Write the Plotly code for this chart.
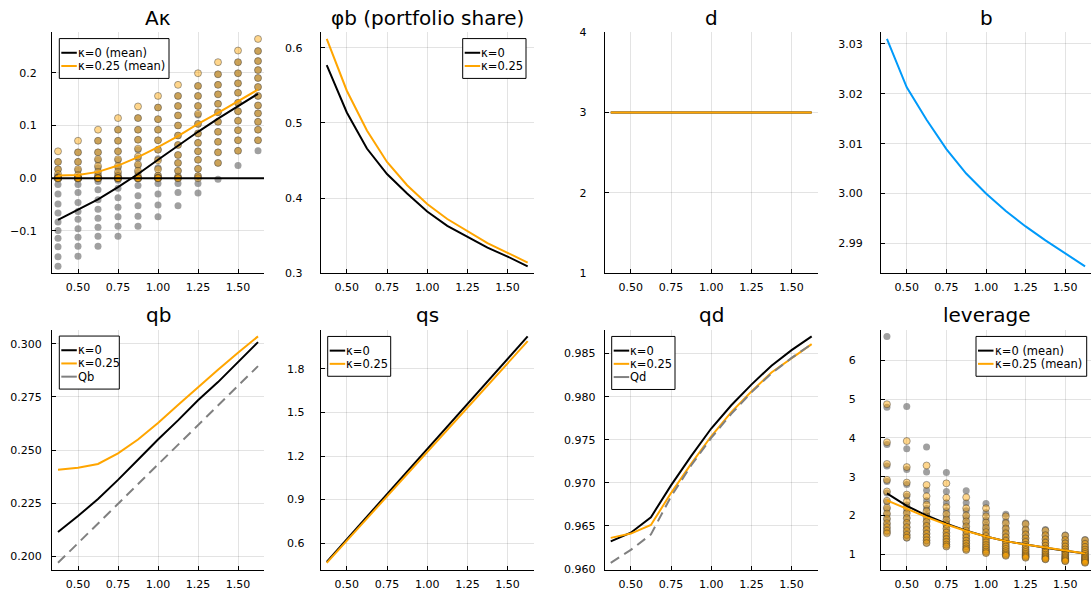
import plotly.graph_objects as go

W, H = 1091, 605

# ---------------- data ----------------
x_grid = [0.375, 0.5, 0.625, 0.75, 0.875, 1.0, 1.125, 1.25, 1.375, 1.5, 1.625]

# A kappa scatter, one list per x value
ak_k0_cols = [
    [0.031, 0.017, 0.004, -0.012, -0.030, -0.049, -0.066, -0.083, -0.099, -0.114, -0.130, -0.149, -0.167],
    [0.049, 0.031, 0.015, 0.000, -0.012, -0.027, -0.046, -0.063, -0.078, -0.096, -0.112, -0.129, -0.148],
    [0.071, 0.049, 0.034, 0.020, 0.007, -0.006, -0.022, -0.041, -0.059, -0.076, -0.093, -0.110, -0.129],
    [0.092, 0.071, 0.051, 0.034, 0.020, 0.008, -0.004, -0.019, -0.037, -0.055, -0.073, -0.091, -0.110],
    [0.114, 0.092, 0.073, 0.054, 0.038, 0.024, 0.011, -0.001, -0.014, -0.033, -0.052, -0.072, -0.091],
    [0.134, 0.112, 0.092, 0.072, 0.054, 0.037, 0.020, 0.005, -0.010, -0.030, -0.051, -0.073],
    [0.156, 0.137, 0.119, 0.100, 0.081, 0.063, 0.044, 0.029, 0.014, 0.002, -0.010, -0.027, -0.052],
    [0.175, 0.156, 0.137, 0.120, 0.103, 0.085, 0.067, 0.051, 0.035, 0.018, 0.004, -0.010, -0.028],
    [0.197, 0.177, 0.159, 0.141, 0.125, 0.107, 0.088, 0.069, 0.049, 0.029, -0.002],
    [0.220, 0.199, 0.180, 0.162, 0.143, 0.127, 0.109, 0.091, 0.072, 0.052, 0.024],
    [0.241, 0.222, 0.205, 0.190, 0.173, 0.156, 0.138, 0.123, 0.107, 0.092, 0.072, 0.052],
]
ak_k25_cols = [
    [0.051, 0.031, 0.017, 0.008, 0.002, 0.0, 0.0, 0.0, 0.0, 0.0, 0.0, 0.0, 0.0],
    [0.071, 0.049, 0.031, 0.017, 0.006, 0.0, 0.0, 0.0, 0.0, 0.0, 0.0, 0.0, 0.0],
    [0.092, 0.071, 0.049, 0.036, 0.023, 0.012, 0.004, 0.0, 0.0, 0.0, 0.0, 0.0, 0.0],
    [0.114, 0.092, 0.071, 0.051, 0.036, 0.023, 0.012, 0.004, 0.0, 0.0, 0.0, 0.0, 0.0],
    [0.136, 0.114, 0.092, 0.073, 0.056, 0.041, 0.026, 0.014, 0.004, 0.0, 0.0, 0.0, 0.0],
    [0.156, 0.134, 0.112, 0.092, 0.072, 0.054, 0.034, 0.017, 0.005, 0.001, 0.0, 0.0, 0.0],
    [0.177, 0.156, 0.137, 0.119, 0.100, 0.081, 0.063, 0.044, 0.029, 0.014, 0.003, 0.0, 0.0],
    [0.199, 0.175, 0.156, 0.137, 0.122, 0.103, 0.085, 0.067, 0.051, 0.035, 0.018, 0.004, 0.0],
    [0.220, 0.197, 0.177, 0.159, 0.141, 0.125, 0.107, 0.088, 0.069, 0.049, 0.029],
    [0.242, 0.220, 0.199, 0.180, 0.162, 0.143, 0.127, 0.109, 0.091, 0.072, 0.052],
    [0.264, 0.241, 0.222, 0.205, 0.190, 0.173, 0.156, 0.138, 0.123, 0.107, 0.092, 0.072],
]
ak_mean_k0 = [-0.079, -0.060, -0.040, -0.017, 0.008, 0.035, 0.062, 0.088, 0.113, 0.137, 0.160]
ak_mean_k25 = [0.005, 0.006, 0.012, 0.024, 0.040, 0.059, 0.080, 0.103, 0.124, 0.146, 0.168]

phib_k0 = [0.577, 0.514, 0.466, 0.432, 0.406, 0.382, 0.363, 0.348, 0.334, 0.322, 0.309]
phib_k25 = [0.612, 0.543, 0.490, 0.448, 0.417, 0.392, 0.372, 0.356, 0.340, 0.327, 0.314]

d_k0 = [3.0, 3.0, 3.0, 3.0, 3.0, 3.0, 3.0, 3.0, 3.0, 3.0, 3.0]
d_k25 = [3.0, 3.0, 3.0, 3.0, 3.0, 3.0, 3.0, 3.0, 3.0, 3.0, 3.0]

b_vals = [3.0310, 3.0213, 3.0148, 3.0089, 3.0040, 3.0000, 2.9965, 2.9934, 2.9906, 2.9880, 2.9854]

qb_k0 = [0.2115, 0.2190, 0.2270, 0.2360, 0.2455, 0.2550, 0.2640, 0.2735, 0.2820, 0.2912, 0.3008]
qb_k25 = [0.2408, 0.2417, 0.2435, 0.2485, 0.2550, 0.2628, 0.2712, 0.2797, 0.2878, 0.2958, 0.3035]
Qb = [0.1970, 0.2062, 0.2154, 0.2247, 0.2340, 0.2432, 0.2525, 0.2617, 0.2710, 0.2802, 0.2895]

qs_k0 = [0.472, 0.627, 0.782, 0.937, 1.092, 1.2475, 1.403, 1.558, 1.713, 1.868, 2.023]
qs_k25 = [0.465, 0.6175, 0.770, 0.9225, 1.075, 1.2275, 1.380, 1.5325, 1.685, 1.8375, 1.990]

qd_k0 = [0.9632, 0.9642, 0.9660, 0.9697, 0.9731, 0.9763, 0.9790, 0.9814, 0.9836, 0.9854, 0.9870]
qd_k25 = [0.9636, 0.9641, 0.9651, 0.9688, 0.9722, 0.9754, 0.9782, 0.9806, 0.9828, 0.9845, 0.9861]
Qd = [0.9607, 0.9622, 0.9640, 0.9684, 0.9720, 0.9752, 0.9780, 0.9805, 0.9827, 0.9845, 0.9861]

lev_k0_cols = [
    [6.62, 4.79, 3.83, 3.28, 2.88, 2.58, 2.35, 2.17, 2.02, 1.89, 1.77, 1.66, 1.56],
    [4.81, 3.72, 3.19, 2.80, 2.50, 2.27, 2.10, 1.95, 1.82, 1.70, 1.59, 1.50, 1.42],
    [3.77, 3.12, 2.65, 2.38, 2.18, 2.02, 1.88, 1.76, 1.65, 1.55, 1.46, 1.37, 1.29],
    [3.11, 2.62, 2.33, 2.12, 1.96, 1.83, 1.71, 1.61, 1.52, 1.44, 1.36, 1.28, 1.21],
    [2.64, 2.33, 2.12, 1.95, 1.81, 1.69, 1.58, 1.49, 1.41, 1.33, 1.26, 1.19, 1.12],
    [2.31, 2.07, 1.89, 1.75, 1.63, 1.52, 1.43, 1.35, 1.28, 1.21, 1.15, 1.09, 1.04],
    [2.03, 1.85, 1.70, 1.58, 1.47, 1.38, 1.30, 1.23, 1.16, 1.10, 1.05, 1.01, 0.97],
    [1.81, 1.66, 1.54, 1.44, 1.35, 1.27, 1.20, 1.13, 1.08, 1.03, 0.98, 0.95, 0.92],
    [1.64, 1.51, 1.41, 1.32, 1.24, 1.17, 1.11, 1.06, 1.01, 0.97, 0.93, 0.90, 0.875],
    [1.50, 1.39, 1.30, 1.22, 1.15, 1.09, 1.04, 0.99, 0.95, 0.91, 0.88, 0.85, 0.83],
    [1.38, 1.29, 1.21, 1.14, 1.08, 1.03, 0.98, 0.94, 0.90, 0.87, 0.84, 0.81, 0.79],
]
lev_k25_cols = [
    [4.87, 3.89, 3.33, 2.92, 2.62, 2.38, 2.20, 2.05, 1.92, 1.80, 1.70, 1.61, 1.54],
    [3.92, 3.25, 2.85, 2.54, 2.36, 2.20, 2.06, 1.93, 1.81, 1.70, 1.60, 1.50, 1.43],
    [3.29, 2.79, 2.50, 2.28, 2.11, 1.97, 1.84, 1.73, 1.63, 1.53, 1.44, 1.36, 1.29],
    [2.83, 2.46, 2.22, 2.04, 1.89, 1.77, 1.66, 1.56, 1.47, 1.39, 1.32, 1.25, 1.20],
    [2.47, 2.19, 2.00, 1.85, 1.72, 1.61, 1.51, 1.43, 1.35, 1.28, 1.21, 1.15, 1.11],
    [2.19, 1.98, 1.82, 1.68, 1.57, 1.47, 1.39, 1.31, 1.24, 1.18, 1.12, 1.07, 1.03],
    [1.98, 1.80, 1.66, 1.54, 1.44, 1.35, 1.27, 1.20, 1.14, 1.08, 1.03, 0.99, 0.96],
    [1.78, 1.63, 1.51, 1.41, 1.32, 1.24, 1.17, 1.11, 1.06, 1.01, 0.97, 0.94, 0.91],
    [1.61, 1.49, 1.39, 1.30, 1.22, 1.15, 1.09, 1.04, 0.99, 0.95, 0.92, 0.89, 0.87],
    [1.48, 1.37, 1.28, 1.20, 1.13, 1.07, 1.02, 0.97, 0.93, 0.90, 0.87, 0.84, 0.82],
    [1.36, 1.27, 1.19, 1.12, 1.06, 1.01, 0.96, 0.92, 0.89, 0.86, 0.83, 0.80, 0.78],
]
lev_mean_k0 = [2.57, 2.25, 2.00, 1.79, 1.61, 1.46, 1.34, 1.25, 1.17, 1.09, 1.02]
lev_mean_k25 = [2.39, 2.17, 1.96, 1.77, 1.60, 1.46, 1.34, 1.25, 1.17, 1.09, 1.02]

titles = ["Aκ", "φb (portfolio share)", "d", "b", "qb", "qs", "qd", "leverage"]
x_ticks = [0.5, 0.75, 1.0, 1.25, 1.5]

# ---------------- styling ----------------
FONT = "DejaVu Sans"
BLACK = "#000000"
ORANGE = "#FFA500"
BLUE = "#009AFA"
GRAY = "#808080"

col_px = [(52.0, 264.0), (320.7, 533.7), (604.7, 817.7), (881.0, 1091.0)]
row_px = [(26.7, 273.0), (330.7, 576.0)]


def pad_range(vals, frac=0.03):
    lo, hi = min(vals), max(vals)
    s = hi - lo
    return [lo - frac * s, hi + frac * s]


def flat(cols):
    return [v for c in cols for v in c]


def xs_for(cols):
    return [x_grid[i] for i, c in enumerate(cols) for _ in c]


fig = go.Figure()

xr = pad_range(x_grid)


def axn(k):
    return "" if k == 1 else str(k)


def add_line(k, y, color, dash=None, width=2):
    fig.add_trace(go.Scatter(
        x=x_grid, y=y, mode="lines", showlegend=False,
        line=dict(color=color, width=width, dash=dash),
        xaxis="x" + axn(k), yaxis="y" + axn(k),
    ))


def add_scatter(k, cols, fill, line_color, line_width):
    fig.add_trace(go.Scatter(
        x=xs_for(cols), y=flat(cols), mode="markers", showlegend=False,
        marker=dict(size=7, color=fill, line=dict(color=line_color, width=line_width)),
        xaxis="x" + axn(k), yaxis="y" + axn(k),
    ))


G_FILL = "rgba(128,128,128,0.75)"
O_FILL = "rgba(255,165,0,0.45)"
O_LINE = "rgba(60,60,60,0.45)"

# 1: A kappa
add_scatter(1, ak_k0_cols, G_FILL, "rgba(0,0,0,0)", 0)
add_scatter(1, ak_k25_cols, O_FILL, O_LINE, 1)
fig.add_trace(go.Scatter(x=xr, y=[0, 0], mode="lines", showlegend=False,
                         line=dict(color=BLACK, width=2), xaxis="x", yaxis="y"))
add_line(1, ak_mean_k0, BLACK)
add_line(1, ak_mean_k25, ORANGE)
# 2: phi b
add_line(2, phib_k0, BLACK)
add_line(2, phib_k25, ORANGE)
# 3: d
add_line(3, d_k0, BLACK)
add_line(3, d_k25, ORANGE)
# 4: b
add_line(4, b_vals, BLUE)
# 5: qb
add_line(5, qb_k0, BLACK)
add_line(5, qb_k25, ORANGE)
add_line(5, Qb, GRAY, dash="10px,6px")
# 6: qs
add_line(6, qs_k0, BLACK)
add_line(6, qs_k25, ORANGE)
# 7: qd
add_line(7, qd_k0, BLACK)
add_line(7, qd_k25, ORANGE)
add_line(7, Qd, GRAY, dash="10px,6px")
# 8: leverage
add_scatter(8, lev_k0_cols, G_FILL, "rgba(0,0,0,0)", 0)
add_scatter(8, lev_k25_cols, O_FILL, O_LINE, 1)
add_line(8, lev_mean_k0, BLACK)
add_line(8, lev_mean_k25, ORANGE)

y_ranges = [
    pad_range(flat(ak_k0_cols) + flat(ak_k25_cols) + ak_mean_k0 + ak_mean_k25),
    pad_range(phib_k0 + phib_k25),
    [1, 4],
    pad_range(b_vals),
    pad_range(qb_k0 + qb_k25 + Qb),
    pad_range(qs_k0 + qs_k25),
    pad_range(qd_k0 + qd_k25 + Qd),
    pad_range(flat(lev_k0_cols) + flat(lev_k25_cols) + lev_mean_k0 + lev_mean_k25),
]
y_ticks = [
    ([-0.1, 0.0, 0.1, 0.2], ".1f"),
    ([0.3, 0.4, 0.5, 0.6], ".1f"),
    ([1, 2, 3, 4], "d"),
    ([2.99, 3.00, 3.01, 3.02, 3.03], ".2f"),
    ([0.200, 0.225, 0.250, 0.275, 0.300], ".3f"),
    ([0.6, 0.9, 1.2, 1.5, 1.8], ".1f"),
    ([0.960, 0.965, 0.970, 0.975, 0.980, 0.985], ".3f"),
    ([1, 2, 3, 4, 5, 6], "d"),
]
y_standoff = [12, 15, 15, 15, 7, 13, 6, 22]

tick_font = dict(family=FONT, size=11, color=BLACK)
layout = dict(
    width=W, height=H, margin=dict(l=0, r=0, t=0, b=0, pad=0),
    paper_bgcolor="white", plot_bgcolor="white", showlegend=False,
    font=dict(family=FONT, color=BLACK), autosize=False,
)
common = dict(showline=True, linecolor=BLACK, linewidth=1, mirror=False,
              ticks="inside", ticklen=4, tickcolor=BLACK, tickwidth=1,
              showgrid=True, gridcolor="rgba(0,0,0,0.11)", gridwidth=1,
              zeroline=False, tickfont=tick_font)
for k in range(1, 9):
    r, c = divmod(k - 1, 4)
    x0, x1 = col_px[c]
    ytop, ybot = row_px[r]
    sfx = axn(k)
    layout["xaxis" + sfx] = dict(
        common, domain=[x0 / W, x1 / W], range=xr, anchor="y" + sfx,
        tickvals=x_ticks, tickformat=".2f", ticklabelstandoff=4)
    tv, tf = y_ticks[k - 1]
    layout["yaxis" + sfx] = dict(
        common, domain=[1 - ybot / H, 1 - ytop / H], range=y_ranges[k - 1],
        anchor="x" + sfx, tickvals=tv, tickformat=tf,
        ticklabelstandoff=y_standoff[k - 1])
fig.update_layout(**layout)

annotations = []
shapes = []
for k, t in enumerate(titles):
    r, c = divmod(k, 4)
    x0, x1 = col_px[c]
    yc = 12.5 if r == 0 else 316.0
    annotations.append(dict(
        text=t, x=(x0 + x1) / 2 / W, y=1 - yc / H, xref="paper", yref="paper",
        xanchor="center", yanchor="middle", showarrow=False,
        font=dict(family=FONT, size=20, color=BLACK)))

# legends: (box px x0, y0, x1), entries
legends = [
    ((59.3, 33.3, 169.0), [("κ=0 (mean)", BLACK, None), ("κ=0.25 (mean)", ORANGE, None)]),
    ((462.7, 33.3, 526.0), [("κ=0", BLACK, None), ("κ=0.25", ORANGE, None)]),
    ((59.3, 337.3, 119.3), [("κ=0", BLACK, None), ("κ=0.25", ORANGE, None), ("Qb", GRAY, "dash")]),
    ((327.7, 337.7, 390.7), [("κ=0", BLACK, None), ("κ=0.25", ORANGE, None)]),
    ((611.7, 337.7, 675.0), [("κ=0", BLACK, None), ("κ=0.25", ORANGE, None), ("Qd", GRAY, "dash")]),
    ((976.0, 337.7, 1086.7), [("κ=0 (mean)", BLACK, None), ("κ=0.25 (mean)", ORANGE, None)]),
]
for (bx0, by0, bx1), entries in legends:
    n = len(entries)
    by1 = by0 + 13.7 + 13.5 * n
    shapes.append(dict(type="rect", xref="paper", yref="paper",
                       x0=bx0 / W, x1=bx1 / W, y0=1 - by1 / H, y1=1 - by0 / H,
                       line=dict(color=BLACK, width=1), fillcolor="white", layer="above"))
    for i, (lab, colr, dsh) in enumerate(entries):
        ey = by0 + 14.5 + 13.5 * i
        shapes.append(dict(type="line", xref="paper", yref="paper",
                           x0=(bx0 + 2) / W, x1=(bx0 + 17.5) / W,
                           y0=1 - ey / H, y1=1 - ey / H,
                           line=dict(color=colr, width=2), layer="above"))
        annotations.append(dict(
            text=lab, x=(bx0 + 17.5) / W, y=1 - ey / H, xref="paper", yref="paper",
            xanchor="left", yanchor="middle", showarrow=False, xshift=-1,
            font=dict(family=FONT, size=11.5, color=BLACK)))

fig.update_layout(annotations=annotations, shapes=shapes)
fig.write_html(
    "out.html",
    config={"displayModeBar": False},
    post_script="document.body.style.margin='0';document.body.style.padding='0';"
                "document.body.style.overflow='hidden';",
)
